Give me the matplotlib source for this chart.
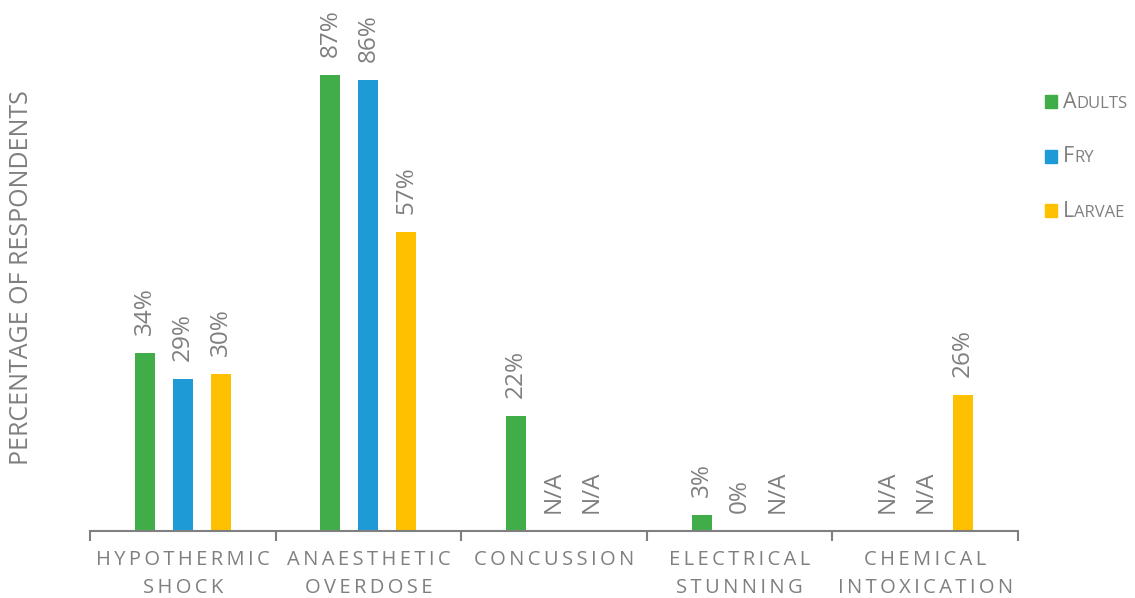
import numpy as np
import matplotlib.pyplot as plt
from matplotlib.patches import Rectangle

categories = ['HYPOTHERMIC\nSHOCK', 'ANAESTHETIC\nOVERDOSE', 'CONCUSSION',
              'ELECTRICAL\nSTUNNING', 'CHEMICAL\nINTOXICATION']
series = ['Adults', 'Fry', 'Larvae']
adults = [34, 87, 22, 3, None]
fry = [29, 86, None, 0, None]
larvae = [30, 57, None, None, 26]
colors = ['#41AD49', '#1E9BD7', '#FFC000']

GRAY = '#7F7F7F'
FONT = ['Open Sans', 'DejaVu Sans']
plt.rcParams['font.family'] = FONT


def spaced(s):
    # widen the letter spacing of the category labels
    return '\n'.join('\u2009'.join(line) for line in s.split('\n'))


fig = plt.figure(figsize=(11.35, 5.98), dpi=100)
ax = fig.add_axes([90 / 1135, 67 / 598, 928 / 1135, 524 / 598])

x = np.arange(len(categories))
offsets = [-0.205, 0.0, 0.205]
width = 0.108

for vals, off, col in zip([adults, fry, larvae], offsets, colors):
    h = [v if v is not None else 0 for v in vals]
    bars = ax.bar(x + off, h, width=width, color=col)
    for b, v in zip(bars, vals):
        txt = 'N/A' if v is None else f'{v}%'
        ax.annotate(txt, (b.get_x() + b.get_width() / 2, b.get_height()),
                    xytext=(0, 13), textcoords='offset points',
                    rotation=90, ha='center', va='bottom',
                    fontsize=17.5, color=GRAY)

ax.set_xlim(-0.5, len(categories) - 0.5)
ax.set_ylim(0, 100)
ax.set_yticks([])
for side in ['left', 'right', 'top']:
    ax.spines[side].set_visible(False)
ax.spines['bottom'].set_color(GRAY)
ax.spines['bottom'].set_linewidth(1.5)

ax.set_xticks(x)
ax.set_xticklabels([spaced(c) for c in categories], fontsize=14.5,
                   color=GRAY, linespacing=1.5)
ax.tick_params(axis='x', which='major', length=0, pad=14)
ax.set_xticks(np.arange(len(categories) + 1) - 0.5, minor=True)
ax.tick_params(axis='x', which='minor', length=7, width=1.5, color=GRAY)

fig.text(22 / 1135, 1 - 278 / 598, 'PERCENTAGE OF RESPONDENTS', rotation=90,
         ha='center', va='center', fontsize=18, color=GRAY)

# small-caps legend on the right: big first letter, smaller rest on the same baseline
renderer = fig.canvas.get_renderer()
for i, (name, col) in enumerate(zip(series, colors)):
    base = 1 - (108 + i * 54.5) / 598
    fig.patches.append(Rectangle((1045 / 1135, base), 12 / 1135, 13 / 598,
                                 transform=fig.transFigure, color=col))
    first = fig.text(1063 / 1135, base, name[0].upper(),
                     fontsize=15.5, color=GRAY, va='baseline')
    x1 = first.get_window_extent(renderer).x1 / fig.bbox.width
    fig.text(x1, base, name[1:].upper(), fontsize=12, color=GRAY, va='baseline')

fig.savefig('out.png', dpi=100)
